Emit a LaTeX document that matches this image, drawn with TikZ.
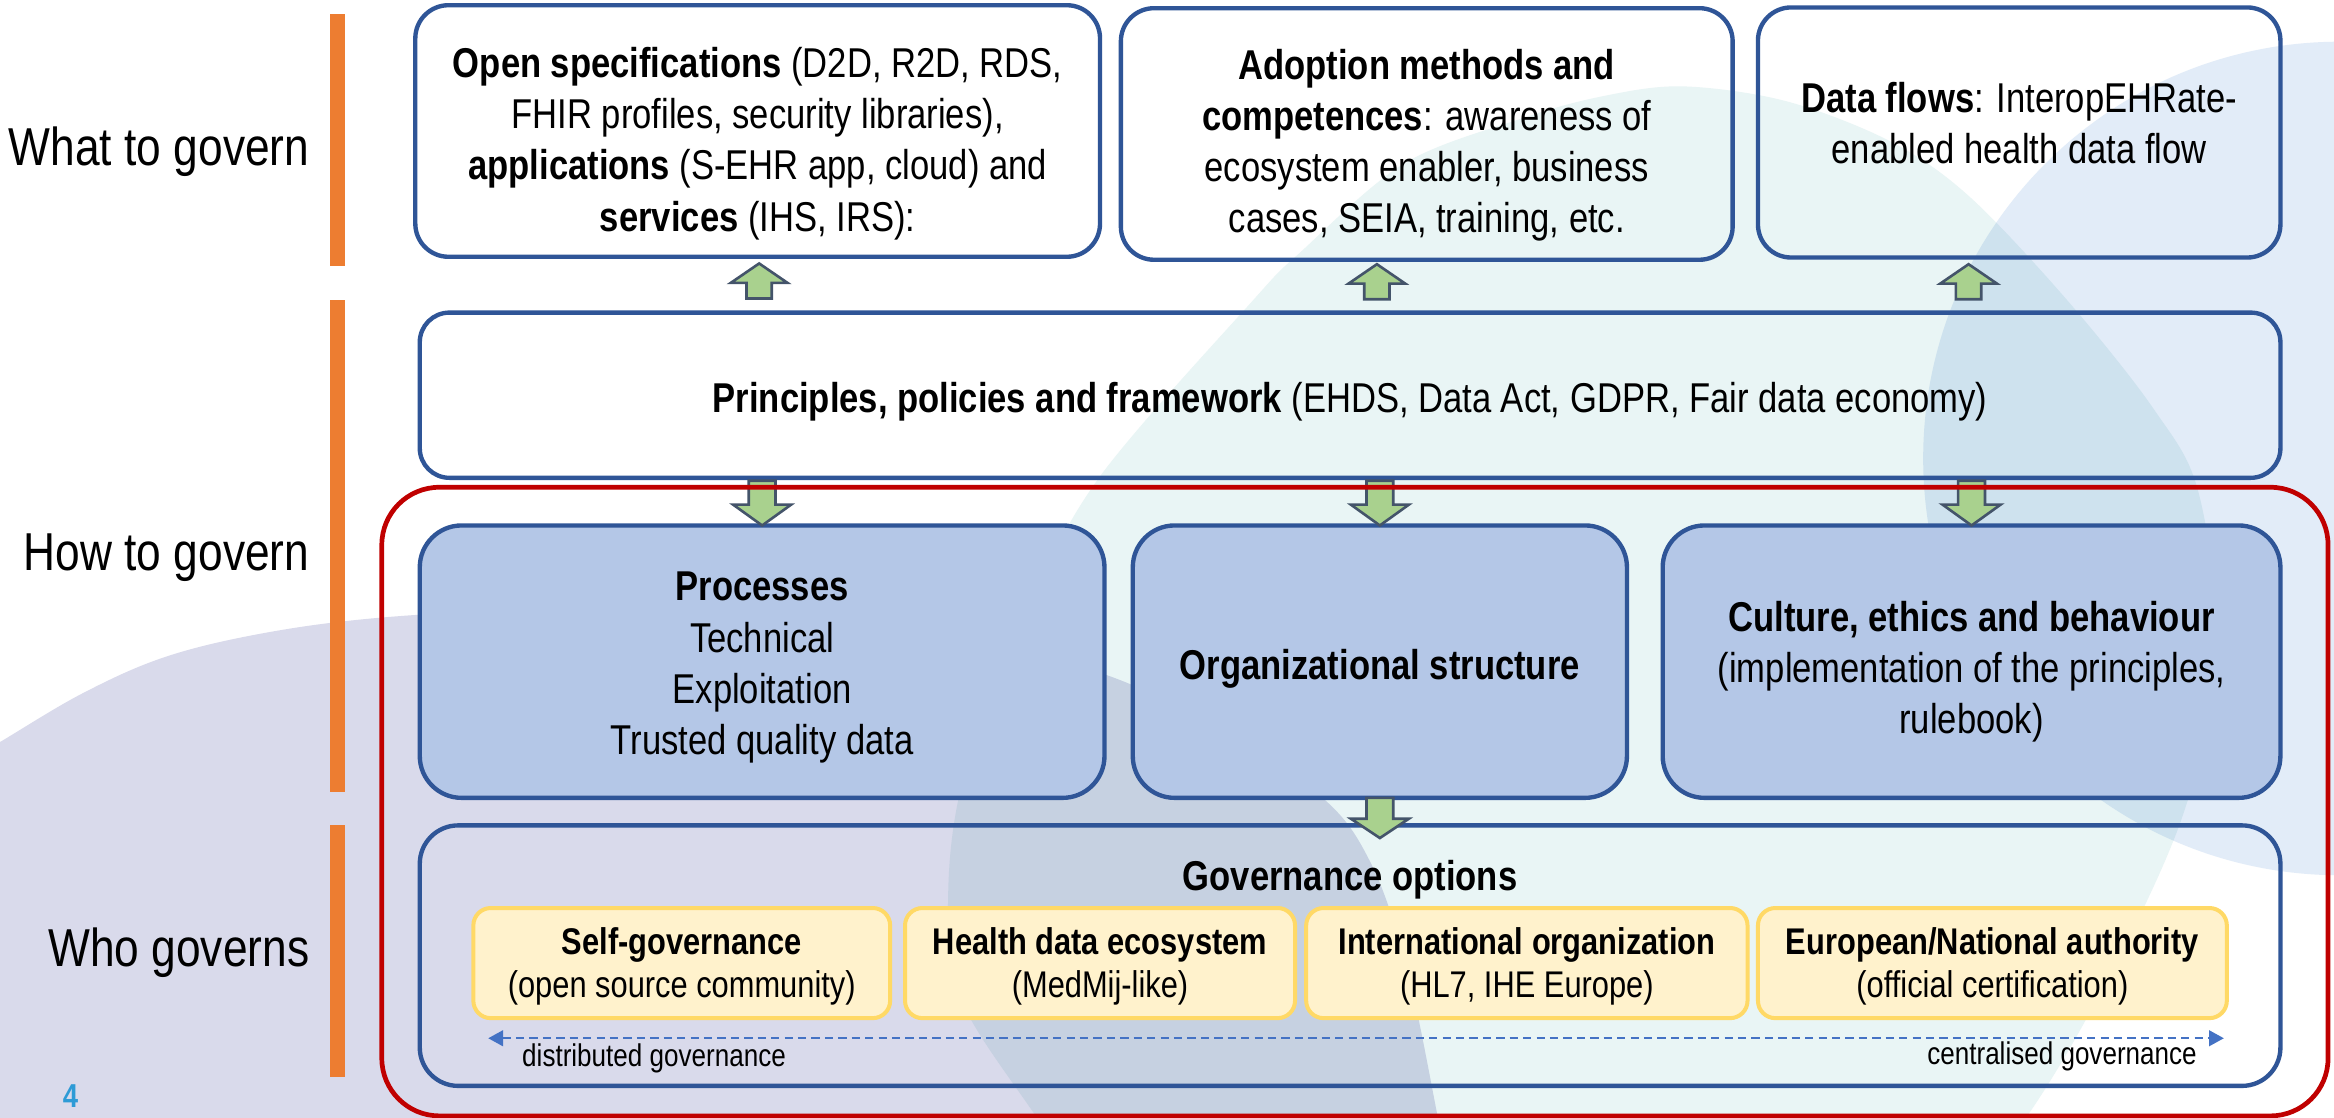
\documentclass[tikz,border=0pt]{standalone}
\usepackage{fontspec}
\setmainfont{Liberation Sans}[FakeStretch=0.83]
\usetikzlibrary{calc,arrows.meta}
\definecolor{bdr}{HTML}{2F5597}
\definecolor{boxblue}{HTML}{B4C7E7}
\definecolor{ybdr}{HTML}{FFD966}
\definecolor{yfill}{HTML}{FFF2CC}
\definecolor{agreen}{HTML}{A9D18E}
\definecolor{aslate}{HTML}{44546A}
\definecolor{orng}{HTML}{ED7D31}
\definecolor{redb}{HTML}{C00000}
\definecolor{dashblue}{HTML}{4472C4}
\definecolor{lav}{HTML}{D9DAEB}
\definecolor{cyanbg}{HTML}{E9F5F5}
\definecolor{lblue}{HTML}{E2ECF8}
\definecolor{numblue}{HTML}{2E9BD6}
\newcommand\mainsz{\fontsize{23.9pt}{29.3pt}\selectfont}
\newcommand\ysz{\fontsize{21.3pt}{24.8pt}\selectfont}
\newcommand\sidesz{\fontsize{30.6pt}{36pt}\selectfont}
\newcommand\lblsz{\fontsize{18pt}{21pt}\selectfont}
\newcommand\gup[1]{\filldraw[garrow] (#1) -- ++(19,13) -- ++(-10.5,0) -- ++(0,10.5) -- ++(-17,0) -- ++(0,-10.5) -- ++(-10.5,0) -- cycle;}
\newcommand\gdown[3]{\filldraw[garrow] (#1) -- ++(19.5,-#2) -- ++(-10.5,0) -- ++(0,-#3) -- ++(-18,0) -- ++(0,#3) -- ++(-10.5,0) -- cycle;}
\begin{document}
\begin{tikzpicture}[x=0.03cm,y=-0.03cm,
  base/.style={inner sep=0pt, outer sep=0pt, align=center, font=\mainsz, text=black},
  wbox/.style={inner sep=0pt, outer sep=0pt, draw=bdr, line width=2.5pt, rounded corners=19pt},
  bbox/.style={inner sep=0pt, outer sep=0pt, draw=bdr, fill=boxblue, line width=2.5pt, rounded corners=24pt},
  ybox/.style={inner sep=0pt, outer sep=0pt, draw=ybdr, fill=yfill, line width=2.3pt, rounded corners=10pt},
  ytext/.style={base, font=\ysz},
  redbox/.style={inner sep=0pt, outer sep=0pt, draw=redb, line width=2.7pt, rounded corners=33pt},
  garrow/.style={fill=agreen, draw=aslate, line width=1.5pt, line join=miter},
  side/.style={font=\sidesz, anchor=base east, inner sep=0pt, text=black},
  lbl/.style={font=\lblsz, inner sep=0pt, text=black},
  dasharrow/.style={draw=dashblue, line width=1.2pt, dash pattern=on 4.8pt off 2.9pt,
    {Triangle[length=8.5pt,width=9pt]}-{Triangle[length=8.5pt,width=9pt]}},
  obar/.style={fill=orng}
]
\useasboundingbox (0,0) rectangle (1568,751);
\fill[white] (0,0) rectangle (1568,751);
% background shapes
\begin{scope}
\clip (0,0) rectangle (1568,751);
\begin{scope}[blend mode=multiply]
\fill[lav] plot[smooth, tension=0.6] coordinates {(-20,510) (0,498.5) (56,465.5) (112,441) (179,425) (255,415) (350,410) (450,411) (560,421) (660,435) (739,452) (810,485) (885,533) (920,578) (945,650) (966,751) (975,800)} -- (-20,800) -- cycle;
\fill[cyanbg] plot[smooth cycle, tension=0.55] coordinates {(739,320) (842,201.5) (873,170) (943,110) (1021,80) (1075,65) (1130,58) (1200,68) (1270,95) (1323,132) (1389,202) (1447,275) (1477,331) (1490,440) (1467,546) (1420,650) (1361,751) (1280,850) (1000,910) (760,840) (696,750) (645,670) (637,600) (648,520) (690,410)};
\fill[lblue] (1572,308) circle[radius=280];
\end{scope}
\end{scope}
% orange bars
\fill[obar] (221.7,9.4) rectangle (231.8,178.6);
\fill[obar] (221.7,201.5) rectangle (231.8,532);
\fill[obar] (221.7,554) rectangle (231.8,723.5);
% side labels
\node[side] (what) at (208,111) {What to govern};
\node[side] (how) at (208,383) {How to govern};
\node[side] (who) at (208,649) {Who governs};
% top boxes
\node[wbox, minimum width=460*0.03cm, minimum height=169*0.03cm] (A) at (509,88) {};
\node[base] (At) at ($(A.center)+(0,8.5)$)
  {\textbf{Open specifications} (D2D, R2D, RDS,\\FHIR profiles, security libraries),\\\textbf{applications} (S-EHR app, cloud) and\\\textbf{services} (IHS, IRS):};
\node[wbox, minimum width=411*0.03cm, minimum height=169*0.03cm] (B) at (958.5,90) {};
\node[base] (Bt) at ($(B.center)+(0,7.5)$)
  {\textbf{Adoption methods and}\\\textbf{competences}: awareness of\\ecosystem enabler, business\\cases, SEIA, training, etc.};
\node[wbox, minimum width=351*0.03cm, minimum height=168*0.03cm] (C) at (1356.5,89) {};
\node[base] (Ct) at ($(C.center)+(0,-6)$)
  {\textbf{Data flows}: InteropEHRate-\\enabled health data flow};
\node[wbox, rounded corners=17pt, minimum width=1250*0.03cm, minimum height=111*0.03cm] (D) at (907,265.5) {};
\node[base] (Dt) at ($(D.center)+(0,4.5)$)
  {\textbf{Principles, policies and framework} (EHDS, Data Act, GDPR, Fair data economy)};
% middle boxes
\node[bbox, minimum width=460*0.03cm, minimum height=183*0.03cm] (E) at (512,444.5) {};
\node[base] (Et) at ($(E.center)+(0,4)$)
  {\textbf{Processes}\\Technical\\Exploitation\\Trusted quality data};
\node[bbox, minimum width=332*0.03cm, minimum height=183*0.03cm] (F) at (927,444.5) {};
\node[base] (Ft) at ($(F.center)+(0,5)$) {\textbf{Organizational structure}};
\node[bbox, minimum width=415*0.03cm, minimum height=183*0.03cm] (G) at (1324.5,444.5) {};
\node[base] (Gt) at ($(G.center)+(0,7)$)
  {\textbf{Culture, ethics and behaviour}\\(implementation of the principles,\\rulebook)};
% up arrows
\coordinate (ua) at ($(E.north |- A.south)+(-2,4.5)$);
\coordinate (ub) at ($(F.north |- B.south)+(-2,3)$);
\coordinate (uc) at ($(G.north |- C.south)+(-2,4.5)$);
\gup{ua}\gup{ub}\gup{uc}
% down arrows D -> E,F,G
\coordinate (da) at (E.north);
\coordinate (db) at (F.north);
\coordinate (dc) at (G.north);
\gdown{da}{14}{16}\gdown{db}{14}{16}\gdown{dc}{14}{16}
% red frame
\node[redbox, minimum width=1307.5*0.03cm, minimum height=422.3*0.03cm] (R) at (910.25,538.5) {};
% governance options
\node[wbox, rounded corners=22pt, minimum width=1250*0.03cm, minimum height=175*0.03cm] (H) at (907,642) {};
\node[base] (Ht) at (907,591) {\textbf{Governance options}};
\node[ybox, minimum width=280*0.03cm, minimum height=74*0.03cm] (Y1) at (458,647) {};
\node[ytext] (Y1t) at ($(Y1.center)+(0,2)$) {\textbf{Self-governance}\\(open source community)};
\node[ybox, minimum width=262*0.03cm, minimum height=74*0.03cm] (Y2) at (739,647) {};
\node[ytext] (Y2t) at ($(Y2.center)+(0,2)$) {\textbf{Health data ecosystem}\\(MedMij-like)};
\node[ybox, minimum width=296.5*0.03cm, minimum height=74*0.03cm] (Y3) at (1025.75,647) {};
\node[ytext] (Y3t) at ($(Y3.center)+(0,2)$) {\textbf{International organization}\\(HL7, IHE Europe)};
\node[ybox, minimum width=315*0.03cm, minimum height=74*0.03cm] (Y4) at (1338.5,647) {};
\node[ytext] (Y4t) at ($(Y4.center)+(0,2)$) {\textbf{European/National authority}\\(official certification)};
% F -> H arrow
\coordinate (dd) at ($(F.south)+(0,27)$);
\gdown{dd}{13}{14}
% dashed scale
\coordinate (dl) at (328,697.5);
\coordinate (dr) at (1494,697.5);
\draw[dasharrow] (dl) -- (dr);
\node[lbl, anchor=base west] (lblL) at (350.6,716.8) {distributed governance};
\node[lbl, anchor=base east] (lblR) at (1476,715) {centralised governance};
% page number
\node[inner sep=0pt, anchor=base west, font=\fontsize{19pt}{22pt}\selectfont\bfseries, text=numblue] (pnum) at (42,744) {4};
\end{tikzpicture}
\end{document}
